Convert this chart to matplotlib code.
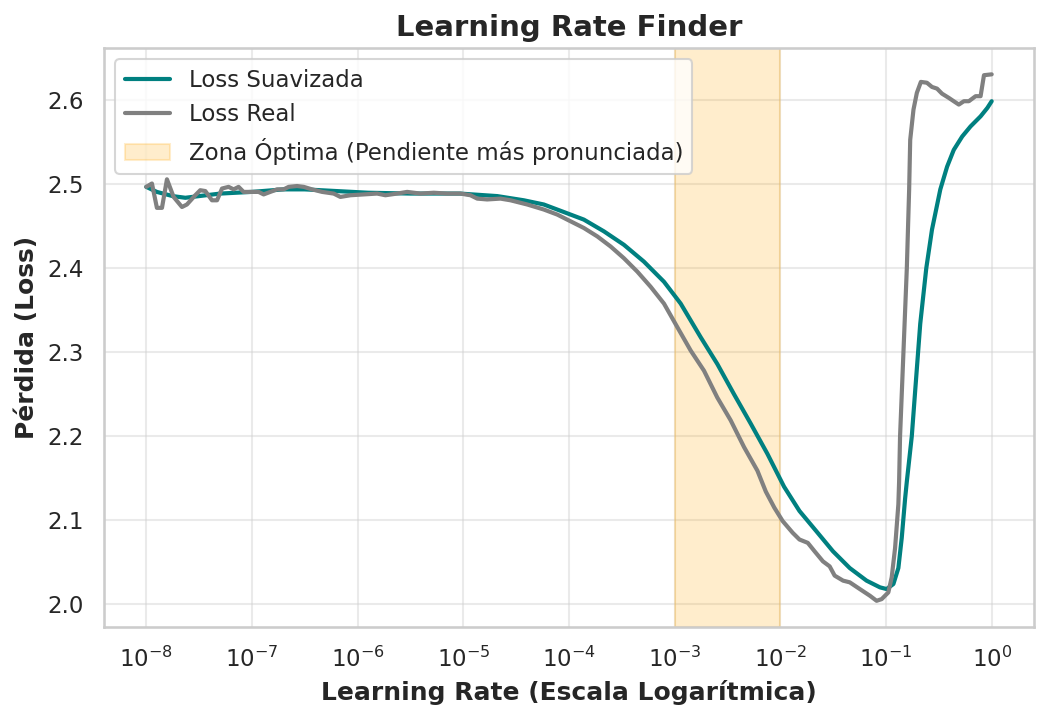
import numpy as np
import matplotlib
matplotlib.use("Agg")
import matplotlib.pyplot as plt
import seaborn as sns

# Exponents of the learning rate (log10) and loss values
real_exp = [-8.0, -7.946, -7.899, -7.851, -7.804, -7.741, -7.662, -7.615, -7.536, -7.489,
            -7.441, -7.378, -7.330, -7.283, -7.221, -7.173, -7.126, -7.079, -7.015, -6.937,
            -6.889, -6.826, -6.762, -6.700, -6.652, -6.573, -6.510, -6.431, -6.336, -6.226,
            -6.163, -6.068, -5.942, -5.815, -5.737, -5.626, -5.531, -5.405, -5.279, -5.153,
            -5.027, -4.932, -4.868, -4.774, -4.648, -4.553, -4.395, -4.238, -4.111, -3.985,
            -3.859, -3.732, -3.606, -3.480, -3.353, -3.227, -3.101, -2.975, -2.848, -2.722,
            -2.596, -2.470, -2.343, -2.217, -2.137, -2.057, -1.978, -1.883, -1.819, -1.740,
            -1.676, -1.597, -1.533, -1.486, -1.406, -1.343, -1.248, -1.152, -1.089, -1.041,
            -0.978, -0.946, -0.914, -0.883, -0.876, -0.867, -0.835, -0.803, -0.781, -0.771,
            -0.740, -0.708, -0.670, -0.613, -0.565, -0.517, -0.470, -0.406, -0.359, -0.311,
            -0.263, -0.216, -0.152, -0.105, -0.073, 0.0]
real_loss = [2.497, 2.501, 2.472, 2.472, 2.506, 2.485, 2.473, 2.476, 2.487, 2.493,
             2.492, 2.481, 2.481, 2.495, 2.497, 2.494, 2.497, 2.491, 2.491, 2.491,
             2.488, 2.491, 2.494, 2.494, 2.497, 2.498, 2.497, 2.494, 2.491, 2.489,
             2.485, 2.487, 2.488, 2.489, 2.487, 2.489, 2.491, 2.489, 2.490, 2.489,
             2.489, 2.487, 2.483, 2.482, 2.483, 2.481, 2.476, 2.470, 2.464, 2.456,
             2.448, 2.438, 2.426, 2.412, 2.396, 2.378, 2.358, 2.330, 2.302, 2.278,
             2.246, 2.219, 2.187, 2.159, 2.134, 2.115, 2.099, 2.085, 2.077, 2.073,
             2.063, 2.051, 2.045, 2.034, 2.028, 2.026, 2.018, 2.010, 2.004, 2.006,
             2.014, 2.032, 2.067, 2.119, 2.146, 2.200, 2.300, 2.400, 2.494, 2.553,
             2.589, 2.609, 2.622, 2.621, 2.616, 2.614, 2.608, 2.603, 2.599, 2.595,
             2.599, 2.599, 2.605, 2.605, 2.630, 2.631]

smooth_exp = [-8.0, -7.9, -7.75, -7.63, -7.5, -7.3, -7.0, -6.7, -6.5, -6.2,
              -5.9, -5.5, -5.03, -4.679, -4.427, -4.238, -4.048, -3.859, -3.669, -3.480,
              -3.291, -3.101, -2.943, -2.754, -2.596, -2.438, -2.280, -2.122, -1.965, -1.819,
              -1.660, -1.502, -1.343, -1.184, -1.057, -0.994, -0.930, -0.883, -0.851, -0.819,
              -0.803, -0.756, -0.724, -0.676, -0.619, -0.565, -0.486, -0.422, -0.359, -0.279,
              -0.200, -0.105, -0.041, 0.0]
smooth_loss = [2.497, 2.491, 2.486, 2.484, 2.486, 2.489, 2.491, 2.494, 2.494, 2.492,
               2.490, 2.489, 2.489, 2.486, 2.481, 2.476, 2.467, 2.458, 2.444, 2.428,
               2.408, 2.384, 2.358, 2.318, 2.286, 2.250, 2.215, 2.179, 2.140, 2.111,
               2.087, 2.063, 2.043, 2.028, 2.020, 2.018, 2.024, 2.043, 2.079, 2.126,
               2.146, 2.200, 2.254, 2.334, 2.400, 2.446, 2.494, 2.521, 2.541, 2.557,
               2.569, 2.581, 2.591, 2.599]

zone_start = 1e-3
zone_end = 1e-2

sns.set_theme(style="whitegrid")

lr_real = 10.0 ** np.array(real_exp)
lr_smooth = 10.0 ** np.array(smooth_exp)

fig, ax = plt.subplots(figsize=(1048 / 150, 720 / 150), dpi=150)
fig.subplots_adjust(left=0.0992, right=0.9866, top=0.9333, bottom=0.129)

ax.plot(lr_smooth, smooth_loss, color="teal", linewidth=2, label="Loss Suavizada")
ax.plot(lr_real, real_loss, color="gray", linewidth=2, label="Loss Real")
ax.axvspan(zone_start, zone_end, color="orange", alpha=0.2,
           label="Zona Óptima (Pendiente más pronunciada)")

ax.set_xscale("log")
ax.set_title("Learning Rate Finder", fontsize=14, fontweight="bold")
ax.set_xlabel("Learning Rate (Escala Logarítmica)", fontsize=12, fontweight="bold")
ax.set_ylabel("Pérdida (Loss)", fontsize=12, fontweight="bold")
ax.tick_params(labelsize=11)
ax.grid(True, alpha=0.4)
ax.legend(loc="upper left", fontsize=11)

fig.savefig("out.png", dpi=150)
